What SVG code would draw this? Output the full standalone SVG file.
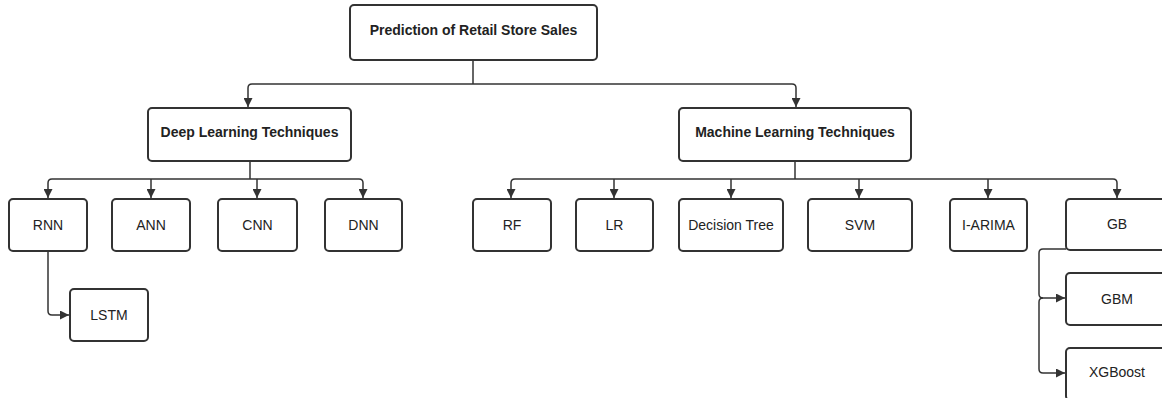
<svg xmlns="http://www.w3.org/2000/svg" width="1162" height="398" viewBox="0 0 1162 398">
<style>
.box{fill:#fff;stroke:#333;stroke-width:2}
.t{font-family:"Liberation Sans",Arial,sans-serif;font-size:14px;fill:#222;text-anchor:middle;dominant-baseline:central}
.b{font-weight:bold}
.c{fill:none;stroke:#333;stroke-width:1.5}
</style>
<defs>
<marker id="ah" markerUnits="userSpaceOnUse" markerWidth="10" markerHeight="9" refX="9" refY="4.5" orient="auto">
<path d="M0,0 L9,4.5 L0,9 z" fill="#333"/>
</marker>
</defs>
<rect width="1162" height="398" fill="#fff"/>
<g id="connectors">
<path class="c" d="M473,60 V84"/>
<path class="c" d="M473,84 H252 Q248,84 248,88 V107" marker-end="url(#ah)"/>
<path class="c" d="M473,84 H792 Q796,84 796,88 V107" marker-end="url(#ah)"/>
<path class="c" d="M250,161 V179"/>
<path class="c" d="M250,179 H52 Q48,179 48,183 V198" marker-end="url(#ah)"/>
<path class="c" d="M151,179 V198" marker-end="url(#ah)"/>
<path class="c" d="M257,179 V198" marker-end="url(#ah)"/>
<path class="c" d="M250,179 H359 Q363,179 363,183 V198" marker-end="url(#ah)"/>
<path class="c" d="M795,161 V179"/>
<path class="c" d="M795,179 H515 Q511,179 511,183 V198" marker-end="url(#ah)"/>
<path class="c" d="M614,179 V198" marker-end="url(#ah)"/>
<path class="c" d="M731,179 V198" marker-end="url(#ah)"/>
<path class="c" d="M859,179 V198" marker-end="url(#ah)"/>
<path class="c" d="M988,179 V198" marker-end="url(#ah)"/>
<path class="c" d="M795,179 H1113 Q1117,179 1117,183 V198" marker-end="url(#ah)"/>
<path class="c" d="M48,251 V311 Q48,315 52,315 H69" marker-end="url(#ah)"/>
<path class="c" d="M1066,249 H1043 Q1039,249 1039,253 V294 Q1039,298 1043,298 H1065" marker-end="url(#ah)"/>
<path class="c" d="M1043,298 Q1039,298 1039,302 V369 Q1039,373 1043,373 H1065" marker-end="url(#ah)"/>
</g>
<g id="root"><rect class="box" x="350" y="5" width="247" height="55" rx="4"/><text class="t b" x="473.5" y="30">Prediction of Retail Store Sales</text></g>
<g id="deep"><rect class="box" x="148" y="108" width="203" height="53" rx="4"/><text class="t b" x="249.5" y="132">Deep Learning Techniques</text></g>
<g id="ml"><rect class="box" x="679" y="108" width="232" height="53" rx="4"/><text class="t b" x="795" y="132">Machine Learning Techniques</text></g>
<g id="rnn"><rect class="box" x="9" y="199" width="78" height="52" rx="4"/><text class="t" x="48" y="225">RNN</text></g>
<g id="ann"><rect class="box" x="112" y="199" width="78" height="52" rx="4"/><text class="t" x="151" y="225">ANN</text></g>
<g id="cnn"><rect class="box" x="218" y="199" width="79" height="52" rx="4"/><text class="t" x="257.5" y="225">CNN</text></g>
<g id="dnn"><rect class="box" x="325" y="199" width="77" height="52" rx="4"/><text class="t" x="363.5" y="225">DNN</text></g>
<g id="lstm"><rect class="box" x="70" y="289" width="78" height="52" rx="4"/><text class="t" x="109" y="315">LSTM</text></g>
<g id="rf"><rect class="box" x="473" y="199" width="78" height="52" rx="4"/><text class="t" x="512" y="225">RF</text></g>
<g id="lr"><rect class="box" x="576" y="199" width="77" height="52" rx="4"/><text class="t" x="614.5" y="225">LR</text></g>
<g id="dt"><rect class="box" x="679" y="199" width="104" height="52" rx="4"/><text class="t" x="731" y="225">Decision Tree</text></g>
<g id="svm"><rect class="box" x="808" y="199" width="104" height="52" rx="4"/><text class="t" x="860" y="225">SVM</text></g>
<g id="iarima"><rect class="box" x="950" y="199" width="77" height="52" rx="4"/><text class="t" x="988.5" y="225">I-ARIMA</text></g>
<g id="gb"><rect class="box" x="1066" y="199" width="102" height="51" rx="4"/><text class="t" x="1117" y="224">GB</text></g>
<g id="gbm"><rect class="box" x="1066" y="273" width="102" height="52" rx="4"/><text class="t" x="1117" y="299">GBM</text></g>
<g id="xgboost"><rect class="box" x="1066" y="348" width="102" height="52" rx="4"/><text class="t" x="1117" y="372">XGBoost</text></g>
</svg>
